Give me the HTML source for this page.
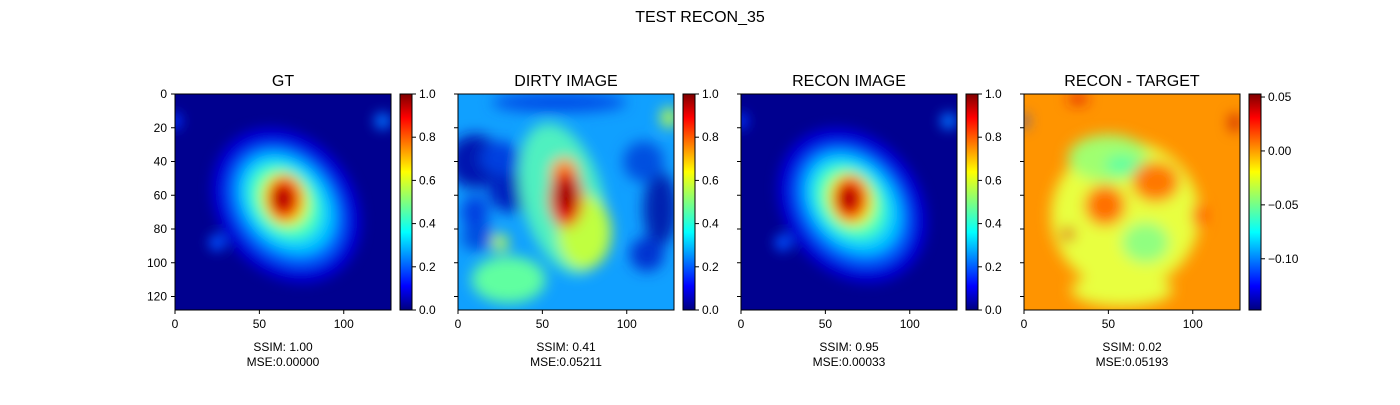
<!DOCTYPE html>
<html><head><meta charset="utf-8"><style>
body{margin:0;background:#fff;}
svg text{font-family:"Liberation Sans","DejaVu Sans",sans-serif;fill:#000;}
</style></head><body>
<svg id="fig" width="1400" height="400" viewBox="0 0 1400 400" xmlns="http://www.w3.org/2000/svg">
<defs>
<linearGradient id="jet" x1="0" y1="1" x2="0" y2="0">
<stop offset="0" stop-color="#00007f"/><stop offset="0.11" stop-color="#0000ff"/><stop offset="0.36" stop-color="#00ffff"/>
<stop offset="0.5" stop-color="#7fff7f"/><stop offset="0.64" stop-color="#ffff00"/><stop offset="0.89" stop-color="#ff0000"/><stop offset="1" stop-color="#7f0000"/>
</linearGradient>
<filter id="blur0" x="-50%" y="-50%" width="200%" height="200%"><feGaussianBlur stdDeviation="6"/></filter>
<filter id="blur1" x="-50%" y="-50%" width="200%" height="200%"><feGaussianBlur stdDeviation="7"/></filter>
<filter id="blur2" x="-50%" y="-50%" width="200%" height="200%"><feGaussianBlur stdDeviation="6"/></filter>
<filter id="blur3" x="-50%" y="-50%" width="200%" height="200%"><feGaussianBlur stdDeviation="7"/></filter>
</defs>
<text x="700" y="22" font-size="16" text-anchor="middle">TEST RECON_35</text>
</svg>
<script>
const panelTitles = ["GT","DIRTY IMAGE","RECON IMAGE","RECON - TARGET"];
const ssim = ["1.00","0.41","0.95","0.02"];
const mse = ["0.00000","0.05211","0.00033","0.05193"];
const xTicks = [0,50,100];
const yTicks = [0,20,40,60,80,100,120];
const cbTicksA = [0,0.2,0.4,0.6,0.8,1.0];
const cbTicksB = [0.05,0,-0.05,-0.10];
const cbRanges = [[0,1],[0,1],[0,1],[-0.1475,0.0528]];
const backgrounds = ["#00008f","#10a0ff","#00008f","#ff9400"];
// blobs: [x, y, rx, ry, rotation, color]
const blobsGT = [[0,16,4,5,0,"#0030ff"],[123,16,5,5,0,"#0070ff"],[25,88,5,5,0,"#0050ff"],
 [66,66,50,40,50,"#0000d8"],[66,66,40,31,50,"#0060ff"],[66,65,33,25,50,"#00c8ff"],[65,64,25,19,50,"#40ffc0"],
 [65,63,17,14,60,"#c8ff30"],[65,62,11,14,0,"#ff8000"],[64,62,8,10,0,"#e00000"],[64,62,4,5,0,"#a00000"]];
const blobsDirty = [[60,5,40,6,0,"#0050e8"],[10,40,16,16,0,"#0018b0"],[32,58,14,12,0,"#0020c0"],[25,38,12,10,0,"#0040e0"],
 [120,68,10,22,0,"#0020b0"],[110,40,12,12,0,"#0050e0"],[12,85,10,8,0,"#0050e0"],[125,14,5,6,0,"#c0ff40"],
 [10,70,8,10,0,"#0040e0"],[112,95,10,10,0,"#0030d0"],
 [62,62,24,46,-15,"#50f0c0"],[75,82,16,22,0,"#c0ff40"],[30,110,22,14,0,"#60ffa0"],[25,88,5,5,0,"#c0ff40"],
 [63,47,8,9,0,"#ff9000"],[64,62,10,17,0,"#f00000"],[64,60,5,10,0,"#900000"]];
const blobsRecon = [[0,16,4,5,0,"#0030ff"],[123,16,5,5,0,"#0070ff"],[25,88,5,5,0,"#0050ff"],
 [66,66,50,40,50,"#0000d8"],[66,66,40,31,50,"#0060ff"],[66,65,33,25,50,"#00c8ff"],[65,64,25,19,50,"#40ffc0"],
 [65,63,17,14,60,"#c8ff30"],[65,62,11,14,0,"#ff8000"],[64,62,8,10,0,"#e00000"],[64,62,4,5,0,"#a00000"]];
const blobsDiff = [[60,72,44,44,0,"#e8ff40"],[50,38,24,14,0,"#a0ff70"],[58,42,10,6,0,"#60ffa0"],
 [48,66,12,12,0,"#ff7000"],[78,52,14,12,0,"#ff7800"],[72,88,14,12,0,"#90ff80"],[104,72,4,7,0,"#ff5000"],
 [58,116,30,10,0,"#e8ff40"],[26,83,4,4,0,"#e00000"],[125,17,3,5,0,"#c00000"],[32,3,6,3,0,"#e02000"],[0,16,2,4,0,"#0040ff"]];
const allBlobs = [blobsGT, blobsDirty, blobsRecon, blobsDiff];
const imgX = [175,458,741,1024], topY=94, size=216, cbOff=225, cbW=12;
const svg = document.getElementById('fig');
const NS = "http://www.w3.org/2000/svg";
function mk(tag, attrs, parent){const e=document.createElementNS(NS,tag);for(const k in attrs)e.setAttribute(k,attrs[k]);(parent||svg).appendChild(e);return e;}
for(let p=0;p<4;p++){
  const x0=imgX[p];
  const sx=v=>x0+v*size/128, sy=v=>topY+v*size/128;
  const g=mk('g',{});
  
  
  const cp=mk('clipPath',{id:'clip'+p},g);
  mk('rect',{x:x0,y:topY,width:size,height:size},cp);
  const ig=mk('g',{'clip-path':'url(#clip'+p+')'},g);
  
  
  mk('rect',{x:x0,y:topY,width:size,height:size,fill:backgrounds[p]},ig);
  const bg=mk('g',{filter:'url(#blur'+p+')'},ig);
  for(const b of allBlobs[p]){
    const bx=sx(b[0]), by=sy(b[1]);
    const el=mk('ellipse',{cx:bx,cy:by,rx:b[2]*size/128,ry:b[3]*size/128,fill:b[5],transform:'rotate('+b[4]+' '+bx+' '+by+')'},bg);
    
    
  }
  mk('rect',{x:x0,y:topY,width:size,height:size,fill:'none',stroke:'#000','stroke-width':1},g);
  const t=mk('text',{x:x0+size/2,y:86,'font-size':16,'text-anchor':'middle'},g);t.textContent=panelTitles[p];
  
  
  for(const v of xTicks){mk('line',{x1:sx(v),x2:sx(v),y1:topY+size,y2:topY+size+4,stroke:'#000'},g);
    const tl=mk('text',{x:sx(v),y:topY+size+18,'font-size':12,'text-anchor':'middle'},g);tl.textContent=v;
    
    }
  for(const v of yTicks){mk('line',{x1:x0-4,x2:x0,y1:sy(v),y2:sy(v),stroke:'#000'},g);
    if(p===0){const tl=mk('text',{x:x0-8,y:sy(v)+4,'font-size':12,'text-anchor':'end'},g);tl.textContent=v;
      
      }}
  const l1=mk('text',{x:x0+size/2,y:351,'font-size':12,'text-anchor':'middle'},g);l1.textContent='SSIM: '+ssim[p];
  
  
  const l2=mk('text',{x:x0+size/2,y:366,'font-size':12,'text-anchor':'middle'},g);l2.textContent='MSE:'+mse[p];
  
  
  const cx0=x0+cbOff;
  const cb=mk('rect',{x:cx0,y:topY,width:cbW,height:size,fill:'url(#jet)',stroke:'#000','stroke-width':1},g);
  
  
  const lo=cbRanges[p][0], hi=cbRanges[p][1];
  const cyf=v=>topY+size-(v-lo)/(hi-lo)*size;
  const ticks=p===3?cbTicksB:cbTicksA;
  for(const v of ticks){mk('line',{x1:cx0+cbW,x2:cx0+cbW+4,y1:cyf(v),y2:cyf(v),stroke:'#000'},g);
    const s=p===3?(v===0?'0.00':(v<0?'\u2212'+Math.abs(v).toFixed(2):v.toFixed(2))):v.toFixed(1);
    const tl=mk('text',{x:cx0+cbW+7,y:cyf(v)+4,'font-size':12},g);tl.textContent=s;
    
    }
}
</script>
</body></html>
